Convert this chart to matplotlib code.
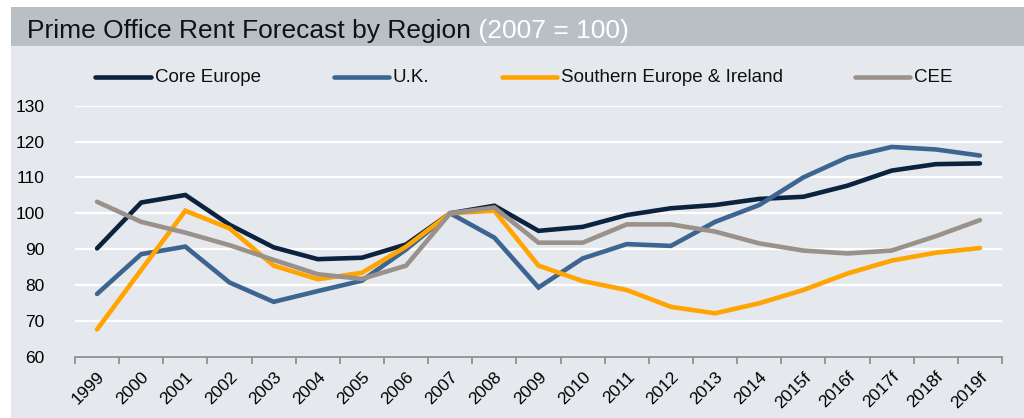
import matplotlib
matplotlib.use("Agg")
import matplotlib.pyplot as plt
from matplotlib.patches import Rectangle
from matplotlib.lines import Line2D

plt.rcParams['font.family'] = ['Liberation Sans', 'DejaVu Sans']

years = ['1999', '2000', '2001', '2002', '2003', '2004', '2005', '2006', '2007', '2008',
         '2009', '2010', '2011', '2012', '2013', '2014', '2015f', '2016f', '2017f', '2018f', '2019f']

core_europe = [90.2, 103.0, 105.1, 96.8, 90.5, 87.2, 87.6, 91.3, 100.0, 102.1,
               95.1, 96.2, 99.5, 101.4, 102.3, 104.0, 104.6, 107.7, 111.9, 113.7, 113.9]
uk = [77.5, 88.6, 90.7, 80.7, 75.3, 78.3, 81.2, 89.9, 100.0, 93.2,
      79.3, 87.4, 91.4, 90.9, 97.6, 102.3, 110.0, 115.6, 118.5, 117.8, 116.1]
southern = [67.6, 84.2, 100.7, 95.8, 85.4, 81.6, 83.4, 90.7, 100.0, 100.7,
            85.4, 81.1, 78.6, 73.9, 72.1, 74.9, 78.6, 83.2, 86.8, 89.0, 90.3]
cee = [103.2, 97.6, 94.6, 91.1, 87.0, 83.0, 81.7, 85.4, 100.0, 101.6,
       91.8, 91.8, 96.9, 96.9, 94.9, 91.6, 89.6, 88.8, 89.6, 93.6, 98.1]

series = [('Core Europe', core_europe, '#0c2340'),
          ('U.K.', uk, '#3d6591'),
          ('Southern Europe & Ireland', southern, '#ffa400'),
          ('CEE', cee, '#9a918a')]

W, H = 1024, 418
fig = plt.figure(figsize=(W / 100, H / 100), dpi=100)

# background panels (pixel coords -> figure fractions)
fig.add_artist(Rectangle((11 / W, 1 - 45.5 / H), 1, 38.5 / H, transform=fig.transFigure,
                         facecolor='#b8bfc5', edgecolor='none', zorder=0))
fig.add_artist(Rectangle((11 / W, 0), 1, 1 - 45.5 / H, transform=fig.transFigure,
                         facecolor='#e5e8ec', edgecolor='none', zorder=0))

# title in two colours: place the white part right after the black part
t1 = fig.text(27 / W, 1 - 37.7 / H, 'Prime Office Rent Forecast by Region', fontsize=19,
              color='#111111', va='baseline', ha='left')
fig.canvas.draw()
bb = t1.get_window_extent()
fig.text(bb.x1 / W, 1 - 37.7 / H, ' (2007 = 100)', fontsize=19, color='white',
         va='baseline', ha='left')

ax = fig.add_axes([75 / W, 1 - 356.7 / H, (1002 - 75) / W, (356.7 - 105.7) / H])
ax.set_facecolor('none')

x = list(range(len(years)))
for name, vals, col in series:
    ax.plot(x, vals, color=col, lw=3.3, solid_capstyle='round', solid_joinstyle='miter', zorder=3)

ax.set_xlim(-0.5, len(years) - 0.5)
ax.set_ylim(60, 130)
ax.set_yticks(range(60, 131, 10))
ax.grid(axis='y', color='white', lw=1.6, zorder=1)
ax.set_axisbelow(True)
for s in ['top', 'right', 'left']:
    ax.spines[s].set_visible(False)
ax.spines['bottom'].set_color('#8f8f8f')
ax.spines['bottom'].set_linewidth(1.3)

ax.set_xticks([i - 0.5 for i in range(len(years) + 1)])
ax.set_xticklabels([])
ax.set_xticks(x, minor=True)
ax.set_xticklabels(years, minor=True, rotation=45, ha='right', rotation_mode='anchor', fontsize=12.5)
ax.tick_params(axis='x', which='major', length=5, color='#8f8f8f', width=1.3, direction='out')
ax.tick_params(axis='x', which='minor', length=0, pad=9)
ax.tick_params(axis='y', length=0, labelsize=12.5, pad=22)

# legend, drawn manually in one row
leg_pos = [(95, 151, 155), (334, 389, 393), (502, 557, 561), (855, 910, 914)]
for (x0, x1, xt), (name, vals, col) in zip(leg_pos, series):
    y = 1 - 77 / H
    fig.add_artist(Line2D([x0 / W, x1 / W], [y, y], transform=fig.transFigure,
                          color=col, lw=3.3, solid_capstyle='round'))
    fig.text(xt / W, y, name, fontsize=13.5, va='center', ha='left', color='#111111')

fig.savefig('out.png', dpi=100)
